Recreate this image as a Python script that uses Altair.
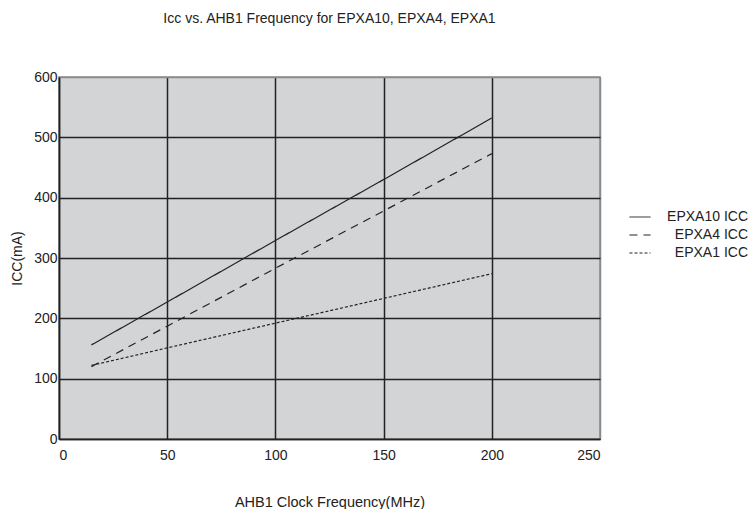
import altair as alt
import pandas as pd

freq = [15, 50, 100, 150, 200]
epxa10 = [156, 227, 329, 430, 532]
epxa4 = [120, 187, 283, 378, 473]
epxa1 = [122, 151, 192, 233, 274]
series = ["EPXA10 ICC", "EPXA4 ICC", "EPXA1 ICC"]
dashes = [[1, 0], [8, 6], [3, 2]]

rows = []
for name, vals in zip(series, [epxa10, epxa4, epxa1]):
    for f, v in zip(freq, vals):
        rows.append({"freq": f, "icc": v, "series": name})
df = pd.DataFrame(rows)

font = "Liberation Sans"

chart = alt.Chart(df).mark_line(color="#222", strokeWidth=1.2).encode(
    x=alt.X("freq:Q", scale=alt.Scale(domain=[0, 250], nice=False),
            axis=alt.Axis(title="AHB1 Clock Frequency(MHz)", values=[0, 50, 100, 150, 200, 250],
                          titlePadding=33, labelPadding=9, ticks=False, titleFontSize=14.5,
                          gridColor={"condition": {"test": "datum.value == 250", "value": "#8a8a8a"}, "value": "#222"},
                          domainColor="#222", domainWidth=1.5)),
    y=alt.Y("icc:Q", scale=alt.Scale(domain=[0, 600], nice=False),
            axis=alt.Axis(title="ICC(mA)", values=[0, 100, 200, 300, 400, 500, 600],
                          titlePadding=9, labelPadding=2, ticks=False,
                          gridColor={"condition": {"test": "datum.value == 600", "value": "#8a8a8a"}, "value": "#222"},
                          domainColor="#222", domainWidth=1.5)),
    strokeDash=alt.StrokeDash("series:N", scale=alt.Scale(domain=series, range=dashes),
                              legend=alt.Legend(title=None, orient="none", legendX=570, legendY=129,
                                                symbolType="stroke", symbolSize=441, symbolStrokeWidth=1,
                                                symbolStrokeColor="#222",
                                                labelAlign="right", labelOffset=97, rowPadding=-1,
                                                labelFontSize=14, labelFont=font, labelColor="#222")),
    detail="series:N",
).properties(
    width=541, height=362,
    title=alt.TitleParams("Icc vs. AHB1 Frequency for EPXA10, EPXA4, EPXA1", fontSize=14,
                          fontWeight="normal", font=font, color="#222", offset=44, anchor="middle"),
    autosize=alt.AutoSizeParams(type="none"),
    padding={"left": 51, "top": 69, "right": 148, "bottom": 70},
).configure_view(
    fill="#d3d4d6", stroke="#8a8a8a", strokeWidth=1.5
).configure_axis(
    labelFont=font, titleFont=font, labelFontSize=14, titleFontSize=14,
    labelColor="#222", titleColor="#222", titleFontWeight="normal", gridWidth=1.5, gridOpacity=1
)

chart.save("out.html", embed_options={"renderer": "svg", "actions": False})
